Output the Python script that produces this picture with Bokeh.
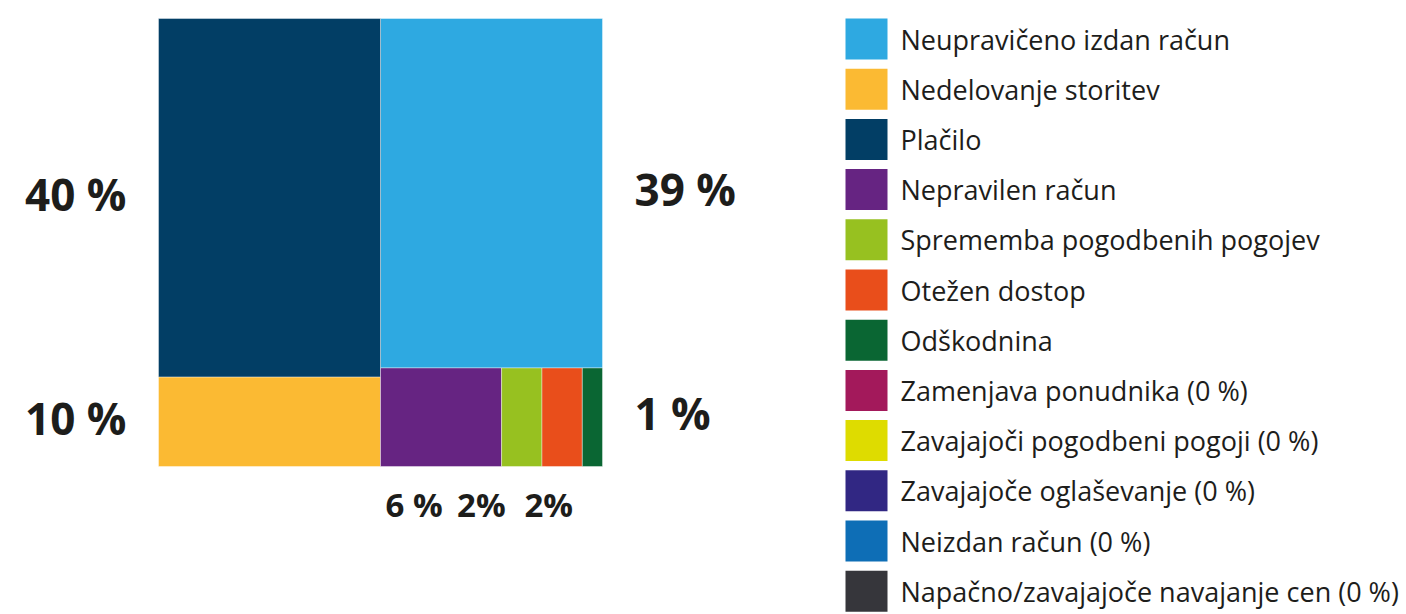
from bokeh.plotting import figure
from bokeh.models import Range1d, ColumnDataSource
from bokeh.core.properties import value
from bokeh.embed import file_html
from bokeh.resources import INLINE

# ---------------- data ----------------
categories = [
    "Neupravičeno izdan račun",
    "Nedelovanje storitev",
    "Plačilo",
    "Nepravilen račun",
    "Sprememba pogodbenih pogojev",
    "Otežen dostop",
    "Odškodnina",
    "Zamenjava ponudnika",
    "Zavajajoči pogodbeni pogoji",
    "Zavajajoče oglaševanje",
    "Neizdan račun",
    "Napačno/zavajajoče navajanje cen",
]
shares = [39, 10, 40, 6, 2, 2, 1, 0, 0, 0, 0, 0]
share_labels = ["39 %", "10 %", "40 %", "6 %", "2%", "2%", "1 %",
                "0 %", "0 %", "0 %", "0 %", "0 %"]
colors = [
    "#2EA9E1", "#FBBA33", "#023E65", "#662482", "#97C120", "#E94E1B",
    "#0A6633", "#A3195B", "#DEDC00", "#312783", "#0E6EB6", "#36363B",
]

# treemap structure: left column, right column (top cell + bottom row)
left_column = ["Plačilo", "Nedelovanje storitev"]
right_top = ["Neupravičeno izdan račun"]
right_row = ["Nepravilen račun", "Sprememba pogodbenih pogojev",
             "Otežen dostop", "Odškodnina"]
label_side = {
    "Plačilo": "left", "Nedelovanje storitev": "left",
    "Neupravičeno izdan račun": "right", "Odškodnina": "right",
    "Nepravilen račun": "below", "Sprememba pogodbenih pogojev": "below",
    "Otežen dostop": "below",
}

# ---------------- layout constants ----------------
W, H = 1406, 614
TX, TY, TW, TH = 158, 18, 444, 448      # treemap box
BIG_FS, SMALL_FS, LEG_FS = 44, 33, 27
TEXT_COLOR = "#1D1D1B"
FONT = "Open Sans"

val = dict(zip(categories, shares))
col = dict(zip(categories, colors))
lab = dict(zip(categories, share_labels))

total = sum(v for v in shares if v > 0)
left_sum = sum(val[c] for c in left_column)
right_sum = sum(val[c] for c in right_top + right_row)

cells = {}
lw = TW * left_sum / total
y = TY
for c in left_column:
    h = TH * val[c] / left_sum
    cells[c] = (TX, TX + lw, y, y + h)
    y += h
rx0, rx1 = TX + lw, TX + TW
y = TY
for c in right_top:
    h = TH * val[c] / right_sum
    cells[c] = (rx0, rx1, y, y + h)
    y += h
row_sum = sum(val[c] for c in right_row)
x = rx0
for c in right_row:
    w = (rx1 - rx0) * val[c] / row_sum
    cells[c] = (x, x + w, y, TY + TH)
    x += w

order = [c for c in categories if c in cells]
tm = ColumnDataSource(dict(
    left=[cells[c][0] for c in order],
    right=[cells[c][1] for c in order],
    top=[cells[c][2] for c in order],
    bottom=[cells[c][3] for c in order],
    color=[col[c] for c in order],
))

p = figure(width=W, height=H, x_range=Range1d(0, W), y_range=Range1d(H, 0),
           output_backend="svg", toolbar_location=None, min_border=0)
p.xaxis.visible = False
p.yaxis.visible = False
p.grid.visible = False
p.outline_line_color = None
p.background_fill_color = "white"
p.border_fill_color = "white"

p.quad(left="left", right="right", top="top", bottom="bottom", source=tm,
       fill_color="color", line_color="white", line_width=0.4)

# side labels (vertically centred on their cells)
GAP = 32
for side, align in (("left", "right"), ("right", "left")):
    cs = [c for c in order if label_side.get(c) == side]
    xs, ys, ts = [], [], []
    for c in cs:
        l, r, t, b = cells[c]
        xs.append(l - GAP if side == "left" else r + GAP)
        ys.append((t + b) / 2 - 4)
        ts.append(lab[c])
    p.text(x=xs, y=ys, text=ts, text_align=align, text_baseline="middle",
           text_font=value(FONT), text_font_style="bold",
           text_font_size=f"{BIG_FS}px", text_color=TEXT_COLOR)

# labels below, spread evenly across the span of their cells
below = [c for c in order if label_side.get(c) == "below"]
bx0 = min(cells[c][0] for c in below)
bx1 = max(cells[c][1] for c in below)
slot = (bx1 - bx0) / len(below)
p.text(x=[bx0 + slot * (i + 0.5) for i in range(len(below))],
       y=[TY + TH + 38] * len(below),
       text=[lab[c] for c in below], text_align="center",
       text_baseline="middle", text_font=value(FONT),
       text_font_style="bold", text_font_size=f"{SMALL_FS}px",
       text_color=TEXT_COLOR)

# legend
LX, LY, SW, SH, STEP = 845, 18, 42, 41, 50.2
leg_labels = [c if v > 0 else f"{c} (0 %)" for c, v in zip(categories, shares)]
n = len(categories)
p.quad(left=[LX] * n, right=[LX + SW] * n,
       top=[LY + STEP * i for i in range(n)],
       bottom=[LY + STEP * i + SH for i in range(n)],
       fill_color=colors, line_color=None)
p.text(x=[LX + SW + 13] * n,
       y=[LY + STEP * i + SH / 2 for i in range(n)],
       text=leg_labels, text_align="left", text_baseline="middle",
       text_font=value(FONT), text_font_size=f"{LEG_FS}px",
       text_color=TEXT_COLOR)

open("out.html", "w").write(file_html(p, INLINE))
